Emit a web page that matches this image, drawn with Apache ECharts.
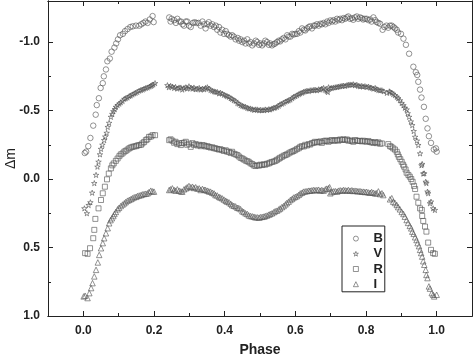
<!DOCTYPE html>
<html>
<head>
<meta charset="utf-8">
<script src="https://cdn.jsdelivr.net/npm/echarts@6/dist/echarts.min.js"></script>
<style>
  html, body { margin: 0; padding: 0; background: #fff; }
  #main { width: 473px; height: 355px; }
</style>
</head>
<body>
<div id="main"></div>
<script>
// tick values
const xMajor = [0, 0.2, 0.4, 0.6, 0.8, 1.0];
const xMinor = [0.1, 0.3, 0.5, 0.7, 0.9];
const yMajor = [-1.0, -0.5, 0, 0.5, 1.0];
const yMinor = [-0.75, -0.25, 0.25, 0.75];

// [phase, delta m]
const bandB = [
  [0.004,-0.19],[0.008,-0.20],[0.014,-0.24],[0.020,-0.30],[0.028,-0.39],[0.035,-0.47],[0.038,-0.54],[0.044,-0.59],
  [0.049,-0.665],[0.055,-0.70],[0.058,-0.75],[0.064,-0.80],[0.068,-0.86],[0.075,-0.88],[0.080,-0.93],[0.088,-0.96],
  [0.093,-0.99],[0.098,-1.02],[0.104,-1.05],[0.112,-1.06],[0.118,-1.08],[0.125,-1.095],[0.133,-1.11],[0.140,-1.115],
  [0.149,-1.12],[0.158,-1.12],[0.164,-1.13],[0.170,-1.14],[0.176,-1.15],[0.182,-1.14],[0.188,-1.165],[0.196,-1.19],[0.199,-1.146],
  [0.243,-1.18],[0.247,-1.15],[0.250,-1.17],[0.257,-1.16],[0.262,-1.14],[0.266,-1.17],[0.272,-1.15],[0.276,-1.15],
  [0.281,-1.13],[0.285,-1.12],[0.290,-1.15],[0.294,-1.15],[0.299,-1.12],[0.304,-1.11],[0.310,-1.14],[0.315,-1.145],
  [0.320,-1.14],[0.326,-1.14],[0.332,-1.12],[0.337,-1.15],[0.342,-1.13],[0.346,-1.10],[0.351,-1.13],[0.355,-1.145],
  [0.360,-1.12],[0.365,-1.13],[0.370,-1.11],[0.375,-1.12],[0.379,-1.09],[0.384,-1.11],[0.388,-1.07],[0.393,-1.09],
  [0.398,-1.06],[0.403,-1.08],[0.407,-1.06],[0.412,-1.05],[0.417,-1.04],[0.421,-1.05],[0.426,-1.04],[0.431,-1.02],
  [0.437,-1.03],[0.441,-1.01],[0.445,-1.02],[0.450,-1.00],[0.455,-1.01],[0.459,-0.99],[0.464,-1.02],[0.469,-0.99],
  [0.473,-1.00],[0.478,-0.976],[0.483,-0.99],[0.488,-1.01],[0.492,-1.00],[0.497,-0.98],[0.501,-0.99],[0.506,-0.976],
  [0.511,-0.99],[0.515,-1.01],[0.520,-1.00],[0.525,-0.98],[0.529,-0.99],[0.534,-0.976],[0.539,-0.985],[0.543,-0.99],
  [0.548,-1.00],[0.553,-1.01],[0.557,-1.005],[0.562,-1.02],[0.567,-1.03],[0.572,-1.02],[0.577,-1.05],[0.581,-1.04],
  [0.586,-1.04],[0.591,-1.06],[0.595,-1.055],[0.600,-1.06],[0.605,-1.06],[0.610,-1.08],[0.614,-1.07],[0.619,-1.10],
  [0.624,-1.09],[0.628,-1.085],[0.633,-1.10],[0.638,-1.11],[0.642,-1.115],[0.647,-1.10],[0.652,-1.12],[0.656,-1.12],
  [0.661,-1.13],[0.666,-1.12],[0.671,-1.134],[0.675,-1.13],[0.680,-1.14],[0.685,-1.13],[0.690,-1.15],[0.694,-1.14],
  [0.699,-1.158],[0.704,-1.15],[0.708,-1.16],[0.713,-1.15],[0.718,-1.17],[0.722,-1.16],[0.727,-1.17],[0.732,-1.16],
  [0.736,-1.175],[0.741,-1.17],[0.746,-1.18],[0.750,-1.187],[0.755,-1.17],[0.760,-1.175],[0.764,-1.163],[0.769,-1.18],
  [0.774,-1.187],[0.778,-1.17],[0.783,-1.18],[0.788,-1.175],[0.792,-1.165],[0.797,-1.17],[0.802,-1.17],[0.807,-1.16],
  [0.812,-1.165],[0.816,-1.15],[0.821,-1.18],[0.826,-1.16],[0.830,-1.146],[0.835,-1.14],[0.840,-1.134],[0.847,-1.09],
  [0.852,-1.11],[0.858,-1.12],[0.863,-1.105],[0.868,-1.12],[0.873,-1.12],[0.878,-1.11],[0.882,-1.10],[0.887,-1.09],
  [0.891,-1.07],[0.899,-1.06],[0.906,-1.025],[0.913,-0.98],[0.922,-0.915],[0.934,-0.82],[0.941,-0.78],[0.945,-0.76],
  [0.948,-0.71],[0.953,-0.653],[0.957,-0.595],[0.964,-0.527],[0.969,-0.44],[0.974,-0.37],[0.978,-0.313],[0.984,-0.264],
  [0.992,-0.216],[0.998,-0.224],[1.0,-0.20]
];

const bandV = [
  [0.003,0.214],[0.010,0.25],[0.015,0.19],[0.020,0.17],[0.025,0.10],[0.031,0.03],[0.036,-0.03],[0.040,-0.09],
  [0.043,-0.126],[0.047,-0.18],[0.050,-0.22],[0.054,-0.25],[0.059,-0.284],[0.062,-0.31],[0.066,-0.337],[0.069,-0.38],
  [0.073,-0.41],[0.078,-0.454],[0.082,-0.475],[0.085,-0.495],[0.089,-0.51],[0.092,-0.527],[0.097,-0.54],[0.102,-0.55],
  [0.106,-0.56],[0.111,-0.57],[0.116,-0.585],[0.120,-0.59],[0.125,-0.595],[0.130,-0.605],[0.134,-0.61],[0.139,-0.617],
  [0.144,-0.625],[0.148,-0.63],[0.153,-0.636],[0.158,-0.645],[0.163,-0.65],[0.168,-0.653],[0.172,-0.66],[0.177,-0.665],
  [0.182,-0.668],[0.187,-0.675],[0.191,-0.68],[0.194,-0.685],[0.198,-0.69],[0.203,-0.70],
  [0.238,-0.685],[0.242,-0.67],[0.247,-0.68],[0.252,-0.675],[0.257,-0.665],[0.261,-0.672],[0.266,-0.66],[0.271,-0.668],
  [0.276,-0.668],[0.280,-0.653],[0.285,-0.665],[0.290,-0.67],[0.294,-0.66],[0.299,-0.677],[0.304,-0.665],[0.309,-0.66],
  [0.313,-0.668],[0.318,-0.655],[0.323,-0.66],[0.328,-0.665],[0.332,-0.653],[0.337,-0.66],[0.342,-0.655],[0.346,-0.665],
  [0.351,-0.67],[0.355,-0.66],[0.360,-0.65],[0.365,-0.645],[0.370,-0.64],[0.374,-0.636],[0.379,-0.636],[0.384,-0.625],
  [0.388,-0.63],[0.393,-0.624],[0.398,-0.615],[0.403,-0.61],[0.407,-0.605],[0.412,-0.60],[0.417,-0.59],[0.421,-0.585],
  [0.426,-0.575],[0.431,-0.57],[0.436,-0.555],[0.440,-0.55],[0.445,-0.539],[0.450,-0.535],[0.454,-0.53],[0.459,-0.527],
  [0.464,-0.52],[0.468,-0.515],[0.473,-0.515],[0.478,-0.51],[0.483,-0.505],[0.487,-0.508],[0.492,-0.508],[0.497,-0.502],
  [0.501,-0.505],[0.506,-0.503],[0.511,-0.503],[0.515,-0.508],[0.520,-0.505],[0.525,-0.51],[0.529,-0.508],[0.534,-0.515],
  [0.539,-0.52],[0.543,-0.522],[0.548,-0.527],[0.553,-0.535],[0.557,-0.545],[0.562,-0.55],[0.567,-0.556],[0.572,-0.565],
  [0.577,-0.57],[0.581,-0.575],[0.586,-0.58],[0.591,-0.59],[0.595,-0.60],[0.600,-0.605],[0.605,-0.612],[0.610,-0.62],
  [0.614,-0.625],[0.619,-0.63],[0.623,-0.636],[0.628,-0.64],[0.633,-0.645],[0.638,-0.642],[0.642,-0.648],[0.647,-0.648],
  [0.652,-0.65],[0.656,-0.652],[0.661,-0.648],[0.666,-0.655],[0.671,-0.653],[0.675,-0.66],[0.680,-0.665],[0.685,-0.65],
  [0.689,-0.643],[0.692,-0.635],[0.694,-0.67],[0.699,-0.662],[0.703,-0.665],[0.708,-0.668],[0.713,-0.67],[0.718,-0.672],
  [0.722,-0.675],[0.727,-0.677],[0.732,-0.68],[0.736,-0.682],[0.741,-0.68],[0.746,-0.685],[0.750,-0.688],[0.755,-0.69],
  [0.760,-0.688],[0.764,-0.692],[0.769,-0.685],[0.774,-0.688],[0.778,-0.68],[0.783,-0.677],[0.788,-0.68],[0.792,-0.675],
  [0.797,-0.678],[0.802,-0.672],[0.807,-0.675],[0.812,-0.668],[0.816,-0.665],[0.821,-0.66],[0.826,-0.665],[0.830,-0.655],
  [0.835,-0.65],[0.840,-0.648],[0.845,-0.648],[0.850,-0.64],[0.859,-0.629],
  [0.866,-0.64],[0.868,-0.636],[0.873,-0.63],[0.877,-0.62],[0.882,-0.612],[0.887,-0.60],[0.891,-0.59],[0.896,-0.575],
  [0.901,-0.555],[0.906,-0.539],[0.910,-0.52],[0.915,-0.508],[0.918,-0.48],[0.922,-0.454],[0.927,-0.42],[0.931,-0.393],
  [0.935,-0.35],[0.939,-0.308],[0.944,-0.28],[0.948,-0.248],[0.953,-0.187],[0.957,-0.10],[0.959,-0.11],[0.962,-0.04],
  [0.965,-0.041],[0.969,0.02],[0.971,0.03],[0.974,0.092],[0.976,0.104],[0.981,0.177],[0.984,0.165],[0.990,0.214],[0.995,0.226]
];

const bandR = [
  [0.005,0.541],[0.012,0.546],[0.019,0.505],[0.028,0.432],[0.031,0.371],[0.034,0.291],[0.043,0.214],[0.050,0.153],
  [0.055,0.104],[0.061,0.056],[0.067,0.002],[0.072,-0.04],[0.078,-0.078],[0.082,-0.10],[0.086,-0.114],[0.092,-0.133],
  [0.097,-0.15],[0.102,-0.167],[0.106,-0.18],[0.111,-0.187],[0.116,-0.20],[0.120,-0.206],[0.125,-0.215],[0.130,-0.224],
  [0.134,-0.23],[0.139,-0.235],[0.144,-0.238],[0.149,-0.24],[0.153,-0.245],[0.158,-0.248],[0.163,-0.25],[0.167,-0.26],
  [0.172,-0.27],[0.177,-0.284],[0.181,-0.29],[0.186,-0.308],[0.191,-0.31],[0.196,-0.32],[0.203,-0.32],
  [0.243,-0.284],[0.247,-0.29],[0.252,-0.28],[0.257,-0.265],[0.261,-0.272],[0.266,-0.255],[0.271,-0.262],[0.276,-0.248],
  [0.280,-0.262],[0.285,-0.265],[0.290,-0.272],[0.294,-0.25],[0.299,-0.258],[0.304,-0.235],[0.309,-0.262],[0.313,-0.25],
  [0.318,-0.255],[0.323,-0.245],[0.328,-0.25],[0.332,-0.24],[0.337,-0.248],[0.342,-0.245],[0.346,-0.238],[0.351,-0.24],
  [0.355,-0.235],[0.360,-0.23],[0.365,-0.232],[0.370,-0.225],[0.374,-0.224],[0.379,-0.22],[0.384,-0.215],[0.388,-0.218],
  [0.393,-0.211],[0.398,-0.205],[0.403,-0.21],[0.407,-0.20],[0.412,-0.199],[0.417,-0.19],[0.421,-0.199],[0.426,-0.185],
  [0.431,-0.18],[0.436,-0.175],[0.440,-0.165],[0.445,-0.155],[0.450,-0.15],[0.454,-0.143],[0.459,-0.135],[0.464,-0.13],
  [0.468,-0.126],[0.473,-0.115],[0.478,-0.11],[0.482,-0.10],[0.487,-0.095],[0.492,-0.10],[0.497,-0.098],[0.501,-0.105],
  [0.506,-0.102],[0.511,-0.108],[0.515,-0.105],[0.520,-0.112],[0.525,-0.114],[0.529,-0.12],[0.534,-0.125],[0.539,-0.128],
  [0.544,-0.133],[0.548,-0.14],[0.553,-0.148],[0.557,-0.155],[0.562,-0.162],[0.567,-0.17],[0.572,-0.175],[0.576,-0.18],
  [0.581,-0.187],[0.586,-0.195],[0.591,-0.20],[0.595,-0.205],[0.600,-0.211],[0.605,-0.22],[0.610,-0.225],[0.614,-0.235],
  [0.619,-0.24],[0.624,-0.238],[0.628,-0.25],[0.633,-0.245],[0.638,-0.255],[0.642,-0.252],[0.647,-0.262],[0.652,-0.265],
  [0.656,-0.272],[0.661,-0.268],[0.666,-0.27],[0.671,-0.275],[0.675,-0.264],[0.680,-0.275],[0.685,-0.28],[0.689,-0.279],
  [0.694,-0.272],[0.699,-0.28],[0.703,-0.285],[0.708,-0.279],[0.713,-0.282],[0.718,-0.285],[0.722,-0.28],[0.727,-0.289],
  [0.732,-0.285],[0.736,-0.29],[0.741,-0.286],[0.746,-0.289],[0.750,-0.28],[0.755,-0.282],[0.760,-0.278],[0.764,-0.272],
  [0.769,-0.285],[0.774,-0.28],[0.778,-0.278],[0.783,-0.279],[0.788,-0.275],[0.792,-0.28],[0.797,-0.276],[0.802,-0.272],
  [0.807,-0.278],[0.812,-0.27],[0.816,-0.268],[0.821,-0.264],[0.826,-0.27],[0.830,-0.262],[0.835,-0.268],[0.840,-0.258],[0.845,-0.26],
  [0.863,-0.255],[0.868,-0.24],[0.872,-0.235],[0.877,-0.224],[0.882,-0.215],[0.887,-0.199],[0.890,-0.18],[0.893,-0.162],
  [0.897,-0.145],[0.901,-0.126],[0.905,-0.105],[0.908,-0.09],[0.912,-0.07],[0.915,-0.046],[0.920,-0.03],[0.924,-0.017],
  [0.928,0.0],[0.932,0.02],[0.936,0.05],[0.939,0.073],[0.943,0.129],[0.948,0.173],[0.953,0.214],[0.958,0.226],
  [0.959,0.27],[0.962,0.306],[0.967,0.347],[0.971,0.384],[0.976,0.464],[0.984,0.517],[0.990,0.541],[0.995,0.546]
];

const bandI = [
  [0.001,0.857],[0.005,0.852],[0.012,0.869],[0.017,0.833],[0.022,0.796],[0.026,0.76],[0.031,0.711],[0.036,0.663],
  [0.041,0.609],[0.045,0.554],[0.050,0.505],[0.055,0.468],[0.059,0.432],[0.064,0.396],[0.069,0.359],[0.073,0.323],
  [0.077,0.30],[0.081,0.286],[0.085,0.27],[0.088,0.255],[0.092,0.24],[0.097,0.221],[0.101,0.21],[0.106,0.197],
  [0.111,0.186],[0.116,0.177],[0.120,0.168],[0.125,0.158],[0.130,0.152],[0.135,0.146],[0.139,0.14],[0.144,0.133],
  [0.149,0.13],[0.153,0.124],[0.158,0.12],[0.163,0.117],[0.167,0.112],[0.172,0.109],[0.177,0.107],[0.182,0.104],
  [0.186,0.095],[0.191,0.085],[0.196,0.09],[0.200,0.092],
  [0.243,0.08],[0.247,0.075],[0.252,0.068],[0.257,0.08],[0.261,0.085],[0.266,0.075],[0.271,0.085],[0.276,0.09],
  [0.280,0.092],[0.285,0.075],[0.290,0.068],[0.294,0.06],[0.299,0.051],[0.304,0.06],[0.309,0.056],[0.313,0.065],
  [0.318,0.06],[0.323,0.07],[0.328,0.068],[0.332,0.08],[0.337,0.072],[0.342,0.078],[0.346,0.08],[0.351,0.085],
  [0.355,0.09],[0.360,0.092],[0.365,0.10],[0.370,0.105],[0.374,0.117],[0.379,0.12],[0.384,0.13],[0.388,0.135],
  [0.393,0.141],[0.398,0.15],[0.403,0.158],[0.407,0.165],[0.412,0.17],[0.417,0.18],[0.421,0.19],[0.426,0.195],
  [0.431,0.20],[0.436,0.21],[0.440,0.212],[0.445,0.22],[0.450,0.235],[0.454,0.24],[0.459,0.25],[0.464,0.255],
  [0.468,0.265],[0.473,0.27],[0.478,0.272],[0.483,0.275],[0.487,0.28],[0.492,0.279],[0.497,0.282],[0.501,0.278],
  [0.506,0.276],[0.511,0.274],[0.515,0.27],[0.520,0.266],[0.525,0.26],[0.529,0.255],[0.534,0.25],[0.539,0.242],
  [0.543,0.235],[0.548,0.231],[0.553,0.222],[0.557,0.215],[0.562,0.205],[0.567,0.197],[0.572,0.185],[0.576,0.175],
  [0.581,0.165],[0.586,0.153],[0.591,0.145],[0.595,0.135],[0.600,0.13],[0.605,0.124],[0.610,0.115],[0.614,0.105],
  [0.619,0.10],[0.623,0.092],[0.628,0.09],[0.633,0.088],[0.638,0.085],[0.642,0.085],[0.647,0.082],[0.652,0.08],
  [0.656,0.082],[0.661,0.08],[0.666,0.078],[0.671,0.085],[0.675,0.08],[0.680,0.085],[0.685,0.075],[0.689,0.07],
  [0.694,0.068],[0.697,0.06],[0.699,0.104],[0.703,0.095],[0.708,0.09],[0.713,0.088],[0.718,0.092],[0.722,0.085],
  [0.727,0.082],[0.732,0.085],[0.736,0.08],[0.741,0.082],[0.746,0.085],[0.750,0.08],[0.755,0.085],[0.760,0.082],
  [0.764,0.087],[0.769,0.085],[0.774,0.087],[0.778,0.09],[0.783,0.088],[0.788,0.092],[0.793,0.092],[0.797,0.095],
  [0.802,0.093],[0.807,0.098],[0.812,0.10],[0.816,0.095],[0.821,0.10],[0.826,0.105],[0.830,0.104],[0.835,0.09],
  [0.840,0.11],[0.845,0.104],[0.849,0.117],
  [0.868,0.148],[0.873,0.14],[0.877,0.165],[0.882,0.175],[0.887,0.189],[0.891,0.205],[0.896,0.221],[0.901,0.24],
  [0.906,0.255],[0.910,0.275],[0.915,0.299],[0.919,0.32],[0.924,0.342],[0.928,0.36],[0.931,0.384],[0.935,0.40],
  [0.939,0.425],[0.943,0.445],[0.946,0.468],[0.950,0.49],[0.953,0.517],[0.956,0.54],[0.959,0.566],[0.962,0.60],
  [0.965,0.626],[0.969,0.663],[0.971,0.70],[0.974,0.723],[0.978,0.784],[0.981,0.80],[0.986,0.833],[0.990,0.845],
  [0.993,0.857],[1.0,0.845]
];

const bandNames = ['B', 'V', 'R', 'I'];

const chart = echarts.init(document.getElementById('main'));

const starPath = 'path://M50,0 L61,35 L98,35 L68,57 L79,91 L50,70 L21,91 L32,57 L2,35 L39,35 Z';
const font = 'Liberation Sans, Arial, sans-serif';
const ink = '#222';
const markStyle = { color: 'rgba(255,255,255,0)', borderColor: '#555', borderWidth: 0.8 };

function xAxisOf(pos, ticks, len, labels) {
    return {
        type: 'value', position: pos, min: -0.1, max: 1.1,
        name: labels ? 'Phase' : '', nameLocation: 'middle', nameGap: 27, nameMoveOverlap: false,
        nameTextStyle: { fontFamily: font, fontWeight: 'bold', fontSize: 14, color: ink },
        axisLine: { show: true, onZero: false, lineStyle: { color: ink, width: 1 } },
        axisTick: { show: true, inside: true, length: len, customValues: ticks, lineStyle: { color: ink } },
        axisLabel: {
            show: labels, customValues: ticks, margin: 9,
            fontFamily: font, fontWeight: 'bold', fontSize: 12, color: ink,
            formatter: v => v.toFixed(1)
        },
        splitLine: { show: false }
    };
}

function yAxisOf(pos, ticks, len, labels) {
    return {
        type: 'value', position: pos, min: -1.3, max: 1.0, inverse: true,
        name: labels ? 'Δm' : '', nameLocation: 'middle', nameGap: 30, nameMoveOverlap: false,
        nameTextStyle: { fontFamily: font, fontSize: 14, color: ink },
        axisLine: { show: true, onZero: false, lineStyle: { color: ink, width: 1 } },
        axisTick: { show: true, inside: true, length: len, customValues: ticks, lineStyle: { color: ink } },
        axisLabel: {
            show: labels, customValues: ticks, margin: 8,
            fontFamily: font, fontWeight: 'bold', fontSize: 12, color: ink,
            formatter: v => v.toFixed(1)
        },
        splitLine: { show: false }
    };
}

function band(name, data, symbol, size) {
    return {
        name: name, type: 'scatter', data: data,
        xAxisIndex: 0, yAxisIndex: 0,
        symbol: symbol, symbolSize: size, symbolKeepAspect: true,
        itemStyle: markStyle,
        emphasis: { disabled: true },
        silent: true
    };
}

const option = {
    animation: false,
    backgroundColor: '#fff',
    grid: { left: 48, right: 1, top: 1, bottom: 39, outerBoundsMode: 'none', containLabel: false },
    xAxis: [
        xAxisOf('bottom', xMajor, 5, true),
        xAxisOf('bottom', xMinor, 3, false),
        xAxisOf('top', xMajor, 5, false),
        xAxisOf('top', xMinor, 3, false)
    ],
    yAxis: [
        yAxisOf('left', yMajor, 5, true),
        yAxisOf('left', yMinor, 3, false),
        yAxisOf('right', yMajor, 5, false),
        yAxisOf('right', yMinor, 3, false)
    ],
    legend: {
        data: bandNames,
        orient: 'vertical',
        left: 342, top: 226,
        padding: [6, 2, 1, 11],
        itemWidth: 5, itemHeight: 5, itemGap: 2,
        itemStyle: markStyle,
        borderColor: ink, borderWidth: 1,
        selectedMode: false,
        textStyle: {
            fontFamily: font, fontWeight: 'bold', fontSize: 13, color: ink,
            lineHeight: 13.2, padding: [0, 0, 0, 10]
        }
    },
    series: [
        band('B', bandB, 'circle', 5.5),
        band('V', bandV, starPath, 5.5),
        band('R', bandR, 'rect', 5),
        band('I', bandI, 'triangle', 5.5)
    ]
};

chart.setOption(option);
</script>
</body>
</html>
